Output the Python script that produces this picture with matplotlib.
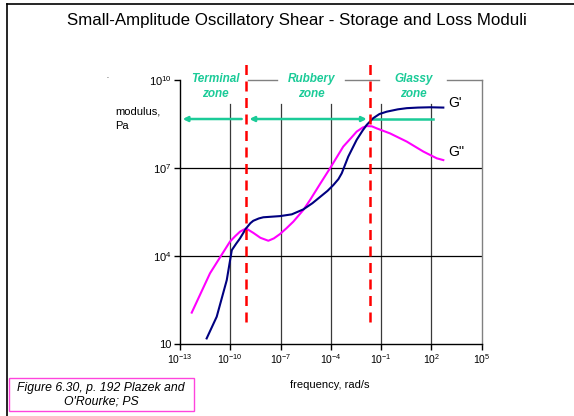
import matplotlib
matplotlib.use("Agg")
import matplotlib.pyplot as plt
from matplotlib.lines import Line2D
from matplotlib.patches import Rectangle
import numpy as np

plt.rcParams['font.family'] = ['Liberation Sans', 'DejaVu Sans']
plt.rcParams['mathtext.fontset'] = 'custom'
plt.rcParams['mathtext.rm'] = 'Liberation Sans'
plt.rcParams['mathtext.it'] = 'Liberation Sans:italic'
plt.rcParams['mathtext.bf'] = 'Liberation Sans:bold'

# ---- data (log10 values) ----
gp_logw = [-11.41, -10.81, -10.21, -9.91, -9.65, -9.42, -9.06, -8.80, -8.63, -8.30, -8.03,
           -7.03, -6.33, -5.64, -5.10, -4.65, -4.20, -3.85, -3.55, -3.35, -2.96, -2.46,
           -2.10, -1.86, -1.47, -1.10, -0.67, 0.0, 0.53, 1.20, 1.92, 2.71]
gp_logG = [1.19, 1.93, 3.18, 4.20, 4.42, 4.60, 4.94, 5.12, 5.20, 5.28, 5.32,
           5.36, 5.42, 5.59, 5.80, 6.01, 6.22, 6.42, 6.62, 6.82, 7.39, 7.96,
           8.28, 8.47, 8.70, 8.84, 8.92, 9.00, 9.04, 9.06, 9.07, 9.06]

gpp_logw = [-12.30, -11.21, -10.02, -9.70, -9.42, -9.06, -8.63, -8.20, -7.73, -7.40, -7.03,
            -6.64, -6.24, -5.64, -5.24, -4.65, -4.05, -3.26, -2.80, -2.46, -2.10, -1.86,
            -1.55, -1.26, -0.47, 0.53, 1.52, 2.32, 2.71]
gpp_logG = [2.07, 3.41, 4.49, 4.68, 4.83, 4.94, 4.79, 4.62, 4.52, 4.60, 4.75,
            4.95, 5.17, 5.57, 5.91, 6.45, 6.99, 7.73, 8.02, 8.24, 8.38, 8.43,
            8.42, 8.35, 8.18, 7.90, 7.56, 7.33, 7.27]

x_tick_exp = [-13, -10, -7, -4, -1, 2, 5]
y_tick_exp = [1, 4, 7, 10]
y_tick_labels = ['10', '$10^{4}$', '$10^{7}$', '$10^{10}$']

zone_names = ['Terminal\nzone', 'Rubbery\nzone', 'Glassy\nzone']
zone_centers_log = [-10.91, -5.18, 0.93]
zone_bounds_log = [-9.05, -1.67]

teal = '#1BCB98'

fig = plt.figure(figsize=(5.74, 4.16), dpi=100)
ax = fig.add_axes([180/574, 1-344/416, (481.7-180)/574, (344-80)/416])

ax.set_xscale('log')
ax.set_yscale('log')
ax.set_xlim(1e-13, 1e5)
ax.set_ylim(10, 1e10)

# grid
for e in x_tick_exp[1:-1]:
    ax.plot([10.0**e, 10.0**e], [10, 10**9.18], color='#3a3a3a', lw=0.9, zorder=1)
for e in y_tick_exp[1:-1]:
    ax.axhline(10.0**e, color='black', lw=0.9, zorder=1)

# spines
ax.spines['top'].set_visible(False)
ax.spines['right'].set_color('#808080')
ax.spines['left'].set_color('black')
ax.spines['bottom'].set_color('black')
for s in ['left', 'bottom', 'right']:
    ax.spines[s].set_linewidth(1.0)
# top border segments between zone labels
for a, b in [(-8.94, -7.21), (-3.15, -1.13), (2.93, 5.0)]:
    ax.plot([10**a, 10**b], [1e10, 1e10], color='#808080', lw=1.0, clip_on=False, zorder=2)

ax.set_xticks([10.0**e for e in x_tick_exp])
ax.set_xticklabels(['$10^{%d}$' % e for e in x_tick_exp], fontsize=7.5)
ax.set_yticks([10.0**e for e in y_tick_exp])
ax.set_yticklabels(y_tick_labels, fontsize=8)
ax.minorticks_off()
ax.tick_params(axis='both', direction='out', length=4, width=1, color='black', pad=2)

# curves
ax.plot(10.0**np.array(gpp_logw), 10.0**np.array(gpp_logG), color='#FF00FF', lw=1.5, zorder=4)
ax.plot(10.0**np.array(gp_logw), 10.0**np.array(gp_logG), color='#000080', lw=1.5, zorder=5)

# zone boundaries
for b in zone_bounds_log:
    ax.plot([10**b, 10**b], [10**1.75, 10**10.62], color='#FF0000', lw=1.8,
            linestyle=(0, (4, 2.6)), clip_on=False, zorder=6)

# arrows
ay = 10**8.67
ax.annotate('', xy=(10**-12.84, ay), xytext=(10**-9.32, ay),
            arrowprops=dict(arrowstyle='-|>', color=teal, lw=1.8, mutation_scale=7,
                            shrinkA=0, shrinkB=0), zorder=3)
ax.annotate('', xy=(10**-8.86, ay), xytext=(10**-1.86, ay),
            arrowprops=dict(arrowstyle='<|-|>', color=teal, lw=1.8, mutation_scale=7,
                            shrinkA=0, shrinkB=0), zorder=3)
ax.plot([10**-1.51, 10**2.10], [ay, ay], color=teal, lw=1.8, zorder=3)

# zone labels
for name, c in zip(zone_names, zone_centers_log):
    ax.text(10**c, 10**9.78, name, ha='center', va='center', fontsize=8.5,
            fontweight='bold', style='italic', color=teal, linespacing=1.3,
            clip_on=False)

# curve labels
ax.text(10**2.98, 10**9.2, "G'", fontsize=10, ha='left', va='center')
ax.text(10**2.98, 10**7.53, "G''", fontsize=10, ha='left', va='center')

# texts on figure
fig.text(297/574, 1-21/416, 'Small-Amplitude Oscillatory Shear - Storage and Loss Moduli',
         ha='center', va='center', fontsize=12.2)
fig.text(115/574, 1-107/416, 'modulus,\nPa', ha='left', va='top', fontsize=8, linespacing=1.55)
fig.text(330/574, 1-385/416, 'frequency, rad/s', ha='center', va='center', fontsize=8)
fig.text(107/574, 1-76/416, '.', ha='center', va='center', fontsize=5)

# note box
fig.patches.append(Rectangle((8.5/574, 1-411/416), (194-8.5)/574, (411-378)/416,
                             transform=fig.transFigure, fill=False,
                             edgecolor='#FF44DD', lw=1.0))
fig.text(101/574, 1-394.5/416, "Figure 6.30, p. 192 Plazek and\nO'Rourke; PS",
         ha='center', va='center', fontsize=8.8, style='italic', linespacing=1.15)

# outer frame (left and top)
fig.lines.append(Line2D([7/574, 7/574], [0, 1-4/416], transform=fig.transFigure,
                        color='black', lw=1.2))
fig.lines.append(Line2D([7/574, 1], [1-4/416, 1-4/416], transform=fig.transFigure,
                        color='black', lw=1.2))

fig.savefig('out.png', dpi=100)
